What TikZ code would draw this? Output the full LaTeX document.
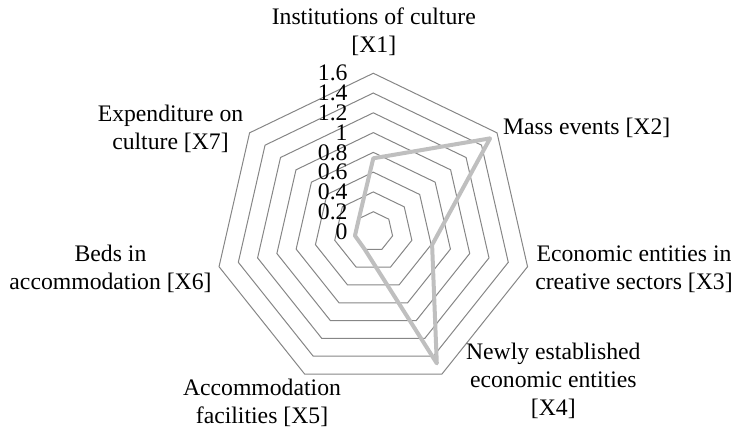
\documentclass[tikz,border=0pt]{standalone}
\usepackage{fontspec}
\setmainfont{Liberation Serif}
\usepackage{tikz}
\usetikzlibrary{positioning}

\definecolor{ringgray}{RGB}{134,134,134}
\definecolor{seriesgray}{RGB}{191,191,191}

\begin{document}
\begin{tikzpicture}[
  x=0.5pt, y=0.5pt,
  ring/.style = {draw=ringgray, line width=0.5pt},
  series/.style = {draw=seriesgray, line width=2pt, line join=round},
  axislabel/.style = {align=center, inner sep=0pt, anchor=base, font=\fontsize{11.85}{14}\selectfont},
  ticklabel/.style = {anchor=east, inner sep=0pt, font=\fontsize{11.85}{14}\selectfont}
]
  \useasboundingbox (-373.3,-199.5) rectangle (361.7,231.5);

  % Rings
  \foreach \i in {1,...,8}
    \draw[ring] (90:\i*19.78) \foreach \k in {1,...,6} { -- ({90-\k*360/7}:\i*19.78) } -- cycle;

  % Scale
  \foreach \i/\t in {0/0, 1/0.2, 2/0.4, 3/0.6, 4/0.8, 5/1, 6/1.2, 7/1.4, 8/1.6}
    \node[ticklabel] (tick\i) at (-25.3, \i*19.78) {\t};

  % Data
  \foreach \k/\v in {1/0.74, 2/1.51, 3/0.61, 4/1.48, 5/0.2, 6/0.19, 7/0.19}
    \coordinate (d\k) at ({90-(\k-1)*360/7}:\v*98.9);
  \draw[series] (d1) -- (d2) -- (d3) -- (d4) -- (d5) -- (d6) -- (d7) -- cycle;

  % Axis labels (base = last line)
  \node[axislabel] (x1) at (0.5, 178.5) {Institutions of culture\\\relax[X1]};
  \node[axislabel, anchor=base west] (x2) at (129.4, 96.5) {Mass events [X2]};
  \node[axislabel] (x3) at (260.7, -58.5) {Economic entities in\\creative sectors [X3]};
  \node[axislabel] (x4) at (180, -184.5) {Newly established\\economic entities\\\relax[X4]};
  \node[axislabel] (x5) at (-111.3, -191.8) {Accommodation\\facilities [X5]};
  \node[axislabel] (x6) at (-262.8, -58.5) {Beds in\\accommodation [X6]};
  \node[axislabel] (x7) at (-202.8, 81.8) {Expenditure on\\culture [X7]};

\end{tikzpicture}
\end{document}
